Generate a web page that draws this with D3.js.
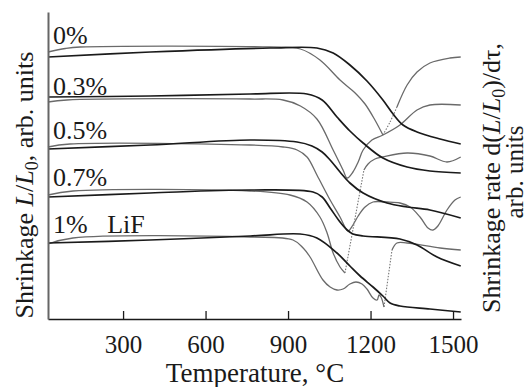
<!DOCTYPE html>
<html>
<head>
<meta charset="utf-8">
<script src="https://cdn.jsdelivr.net/npm/d3@7/dist/d3.min.js"></script>
<style>
body { margin: 0; background: #fff; }
svg text { font-family: "Liberation Serif", "Times New Roman", serif; fill: #1a1a1a; }
</style>
</head>
<body>
<div id="chart"></div>
<script>
// LiF content of each sample
const labels = ["0%", "0.3%", "0.5%", "0.7%", "1%"];
const additive = "LiF";
const tickTemps = [300, 600, 900, 1200, 1500];

// shrinkage L/L0 curves, [temperature °C, arb. units]
const shrink0 = [[27,26.2],[400,26.7],[835,27.1],[1005,27.1],[1064,26.6],[1125,25.4],[1187,23.8],[1245,21.9],[1282,20.5],[1318,19.4],[1369,18.7],[1453,18.0],[1528,17.5]];
const shrink3 = [[27,22.2],[398,22.3],[762,22.5],[969,22.5],[1024,21.9],[1078,20.2],[1125,18.8],[1173,17.6],[1245,16.1],[1333,15.2],[1416,14.8],[1528,14.6]];
const shrink5 = [[27,17.0],[398,17.4],[762,17.9],[933,17.7],[987,17.3],[1024,16.7],[1053,15.9],[1089,14.7],[1125,13.6],[1173,12.6],[1260,11.6],[1333,11.2],[1416,10.9],[1528,10.1]];
const shrink7 = [[27,12.2],[398,12.6],[762,12.9],[991,12.7],[1024,12.2],[1053,11.1],[1089,9.7],[1115,8.9],[1136,8.5],[1173,8.3],[1307,8.0],[1369,7.4],[1442,6.2],[1528,5.3]];
const shrink10 = [[27,7.6],[398,7.9],[762,8.3],[944,8.5],[1005,8.1],[1078,6.6],[1125,5.3],[1162,4.3],[1209,3.2],[1245,2.3],[1271,1.6],[1307,1.3],[1416,1.0],[1528,0.7]];

// shrinkage rate d(L/L0)/dt curves
const rate0 = [[27,26.7],[90,27.05],[144,27.2],[835,27.2],[945,27.0],[1016,25.9],[1089,23.9],[1144,22.6],[1180,21.5],[1216,19.9],[1245,18.4],[1271,19.7],[1296,21.2],[1333,23.4],[1369,24.7],[1416,25.6],[1489,26.1],[1528,26.2]];
const rate3 = [[27,21.7],[96,21.9],[762,22.0],[882,21.9],[945,21.3],[1005,20.0],[1064,16.9],[1100,14.9],[1115,14.1],[1136,14.7],[1155,15.7],[1173,16.9],[1205,17.9],[1245,18.4],[1307,19.4],[1369,20.9],[1416,21.4],[1528,21.4]];
const rate5 = [[27,17.2],[107,17.5],[762,17.4],[882,17.2],[933,16.9],[969,16.2],[1005,14.4],[1053,11.9],[1089,10.2],[1107,9.2],[1118,8.8],[1136,9.4],[1155,10.3],[1180,11.2],[1209,11.7],[1260,11.7],[1307,11.6],[1344,11.2],[1380,10.2],[1409,9.1],[1427,8.9],[1445,9.3],[1478,10.9],[1507,11.9],[1528,12.2]];
const rate7 = [[27,12.4],[118,12.8],[762,12.8],[907,12.4],[969,11.7],[1016,10.2],[1042,8.6],[1064,6.6],[1089,5.2],[1107,4.6],[1176,14.9],[1191,15.5],[1216,16.0],[1245,16.2],[1333,16.6],[1416,16.3],[1478,15.7],[1528,16.2]];
const rate10 = [[27,7.5],[118,8.1],[762,8.2],[918,7.9],[955,7.1],[980,6.2],[1027,3.9],[1053,3.2],[1078,2.9],[1100,3.0],[1125,3.5],[1147,3.7],[1169,3.5],[1187,3.0],[1209,2.1],[1224,1.9],[1231,2.4],[1238,2.2],[1249,1.2],[1278,6.9],[1296,7.6],[1333,7.6],[1453,7.1],[1528,6.9]];

// temperature ranges where the rate curve is only dotted
const rateGaps = [[1245,1296], null, null, [1107,1176], [1249,1278]];

const shrinkSeries = [shrink0, shrink3, shrink5, shrink7, shrink10];
const rateSeries = [rate0, rate3, rate5, rate7, rate10];

const width = 531, height = 387;
const margin = {top: 12, right: 70, bottom: 68, left: 48};

const svg = d3.select("#chart").append("svg")
    .attr("width", width)
    .attr("height", height);

const x = d3.scaleLinear()
    .domain([27, 1529])
    .range([margin.left, width - margin.right]);

const y = d3.scaleLinear()
    .domain([0, 30.7])
    .range([height - margin.bottom, margin.top]);

const line = d3.line()
    .x(function(d) { return x(d[0]); })
    .y(function(d) { return y(d[1]); })
    .curve(d3.curveCatmullRom.alpha(0.5));

// rate curves (grey), split into solid and dotted parts
rateSeries.forEach(function(pts, i) {
    const gap = rateGaps[i];
    let solid = [pts], dotted = [];
    if (gap) {
        solid = [pts.filter(d => d[0] <= gap[0]), pts.filter(d => d[0] >= gap[1])];
        dotted = [pts.filter(d => d[0] >= gap[0] && d[0] <= gap[1])];
    }
    solid.forEach(function(p) {
        svg.append("path")
            .attr("d", line(p))
            .attr("fill", "none")
            .attr("stroke", "#6a6a6a")
            .attr("stroke-width", 1.3);
    });
    dotted.forEach(function(p) {
        svg.append("path")
            .attr("d", line(p))
            .attr("fill", "none")
            .attr("stroke", "#777")
            .attr("stroke-width", 1.1)
            .attr("stroke-dasharray", "1.5,1.5");
    });
});

// shrinkage curves (dark)
svg.selectAll(".shrink")
    .data(shrinkSeries)
    .enter().append("path")
    .attr("class", "shrink")
    .attr("d", line)
    .attr("fill", "none")
    .attr("stroke", "#1a1a1a")
    .attr("stroke-width", 1.7);

// curve labels
svg.selectAll(".lbl")
    .data(labels)
    .enter().append("text")
    .attr("class", "lbl")
    .attr("x", margin.left + 5)
    .attr("y", function(d, i) { return y(rateSeries[i][1][1]) - 5; })
    .style("font-size", "26px")
    .each(function(d, i) {
        const t = d3.select(this);
        t.append("tspan").text(d);
        if (i === labels.length - 1) t.append("tspan").attr("dx", 13).text(" " + additive);
    });

// axes
const xAxis = d3.axisBottom(x)
    .tickValues(tickTemps)
    .tickFormat(d3.format("d"))
    .tickSizeInner(-8)
    .tickSizeOuter(0)
    .tickPadding(16);

const gx = svg.append("g")
    .attr("transform", "translate(0," + (height - margin.bottom) + ")")
    .call(xAxis);
gx.select(".domain").attr("stroke", "#1a1a1a").attr("stroke-width", 1.6);
gx.selectAll(".tick line").attr("stroke", "#1a1a1a").attr("stroke-width", 1.3);
gx.selectAll(".tick text")
    .style("font-family", "'Liberation Serif', serif")
    .style("font-size", "25px")
    .attr("fill", "#1a1a1a");

const gy = svg.append("g")
    .attr("transform", "translate(" + margin.left + ",0)")
    .call(d3.axisLeft(y).tickValues([]).tickSizeOuter(0));
gy.select(".domain").attr("stroke", "#666").attr("stroke-width", 2);

// axis titles
svg.append("text")
    .attr("x", 255)
    .attr("y", 382)
    .attr("text-anchor", "middle")
    .style("font-size", "27px")
    .text("Temperature, °C");

const yTitle = svg.append("text")
    .attr("transform", "translate(33,185)rotate(-90)")
    .attr("text-anchor", "middle")
    .style("font-size", "26px");
yTitle.append("tspan").text("Shrinkage ");
yTitle.append("tspan").style("font-style", "italic").text("L");
yTitle.append("tspan").text("/");
yTitle.append("tspan").style("font-style", "italic").text("L");
yTitle.append("tspan").attr("dy", 5).style("font-size", "18px").text("0");
yTitle.append("tspan").attr("dy", -5).text(", arb. units");

const rTitle = svg.append("text")
    .attr("transform", "translate(500,178)rotate(-90)")
    .attr("text-anchor", "middle")
    .style("font-size", "26px");
rTitle.append("tspan").text("Shrinkage rate d(");
rTitle.append("tspan").style("font-style", "italic").text("L");
rTitle.append("tspan").text("/");
rTitle.append("tspan").style("font-style", "italic").text("L");
rTitle.append("tspan").attr("dy", 5).style("font-size", "18px").text("0");
rTitle.append("tspan").attr("dy", -5).text(")/dτ,");

svg.append("text")
    .attr("transform", "translate(523,172)rotate(-90)")
    .attr("text-anchor", "middle")
    .style("font-size", "25px")
    .text("arb. units");
</script>
</body>
</html>
